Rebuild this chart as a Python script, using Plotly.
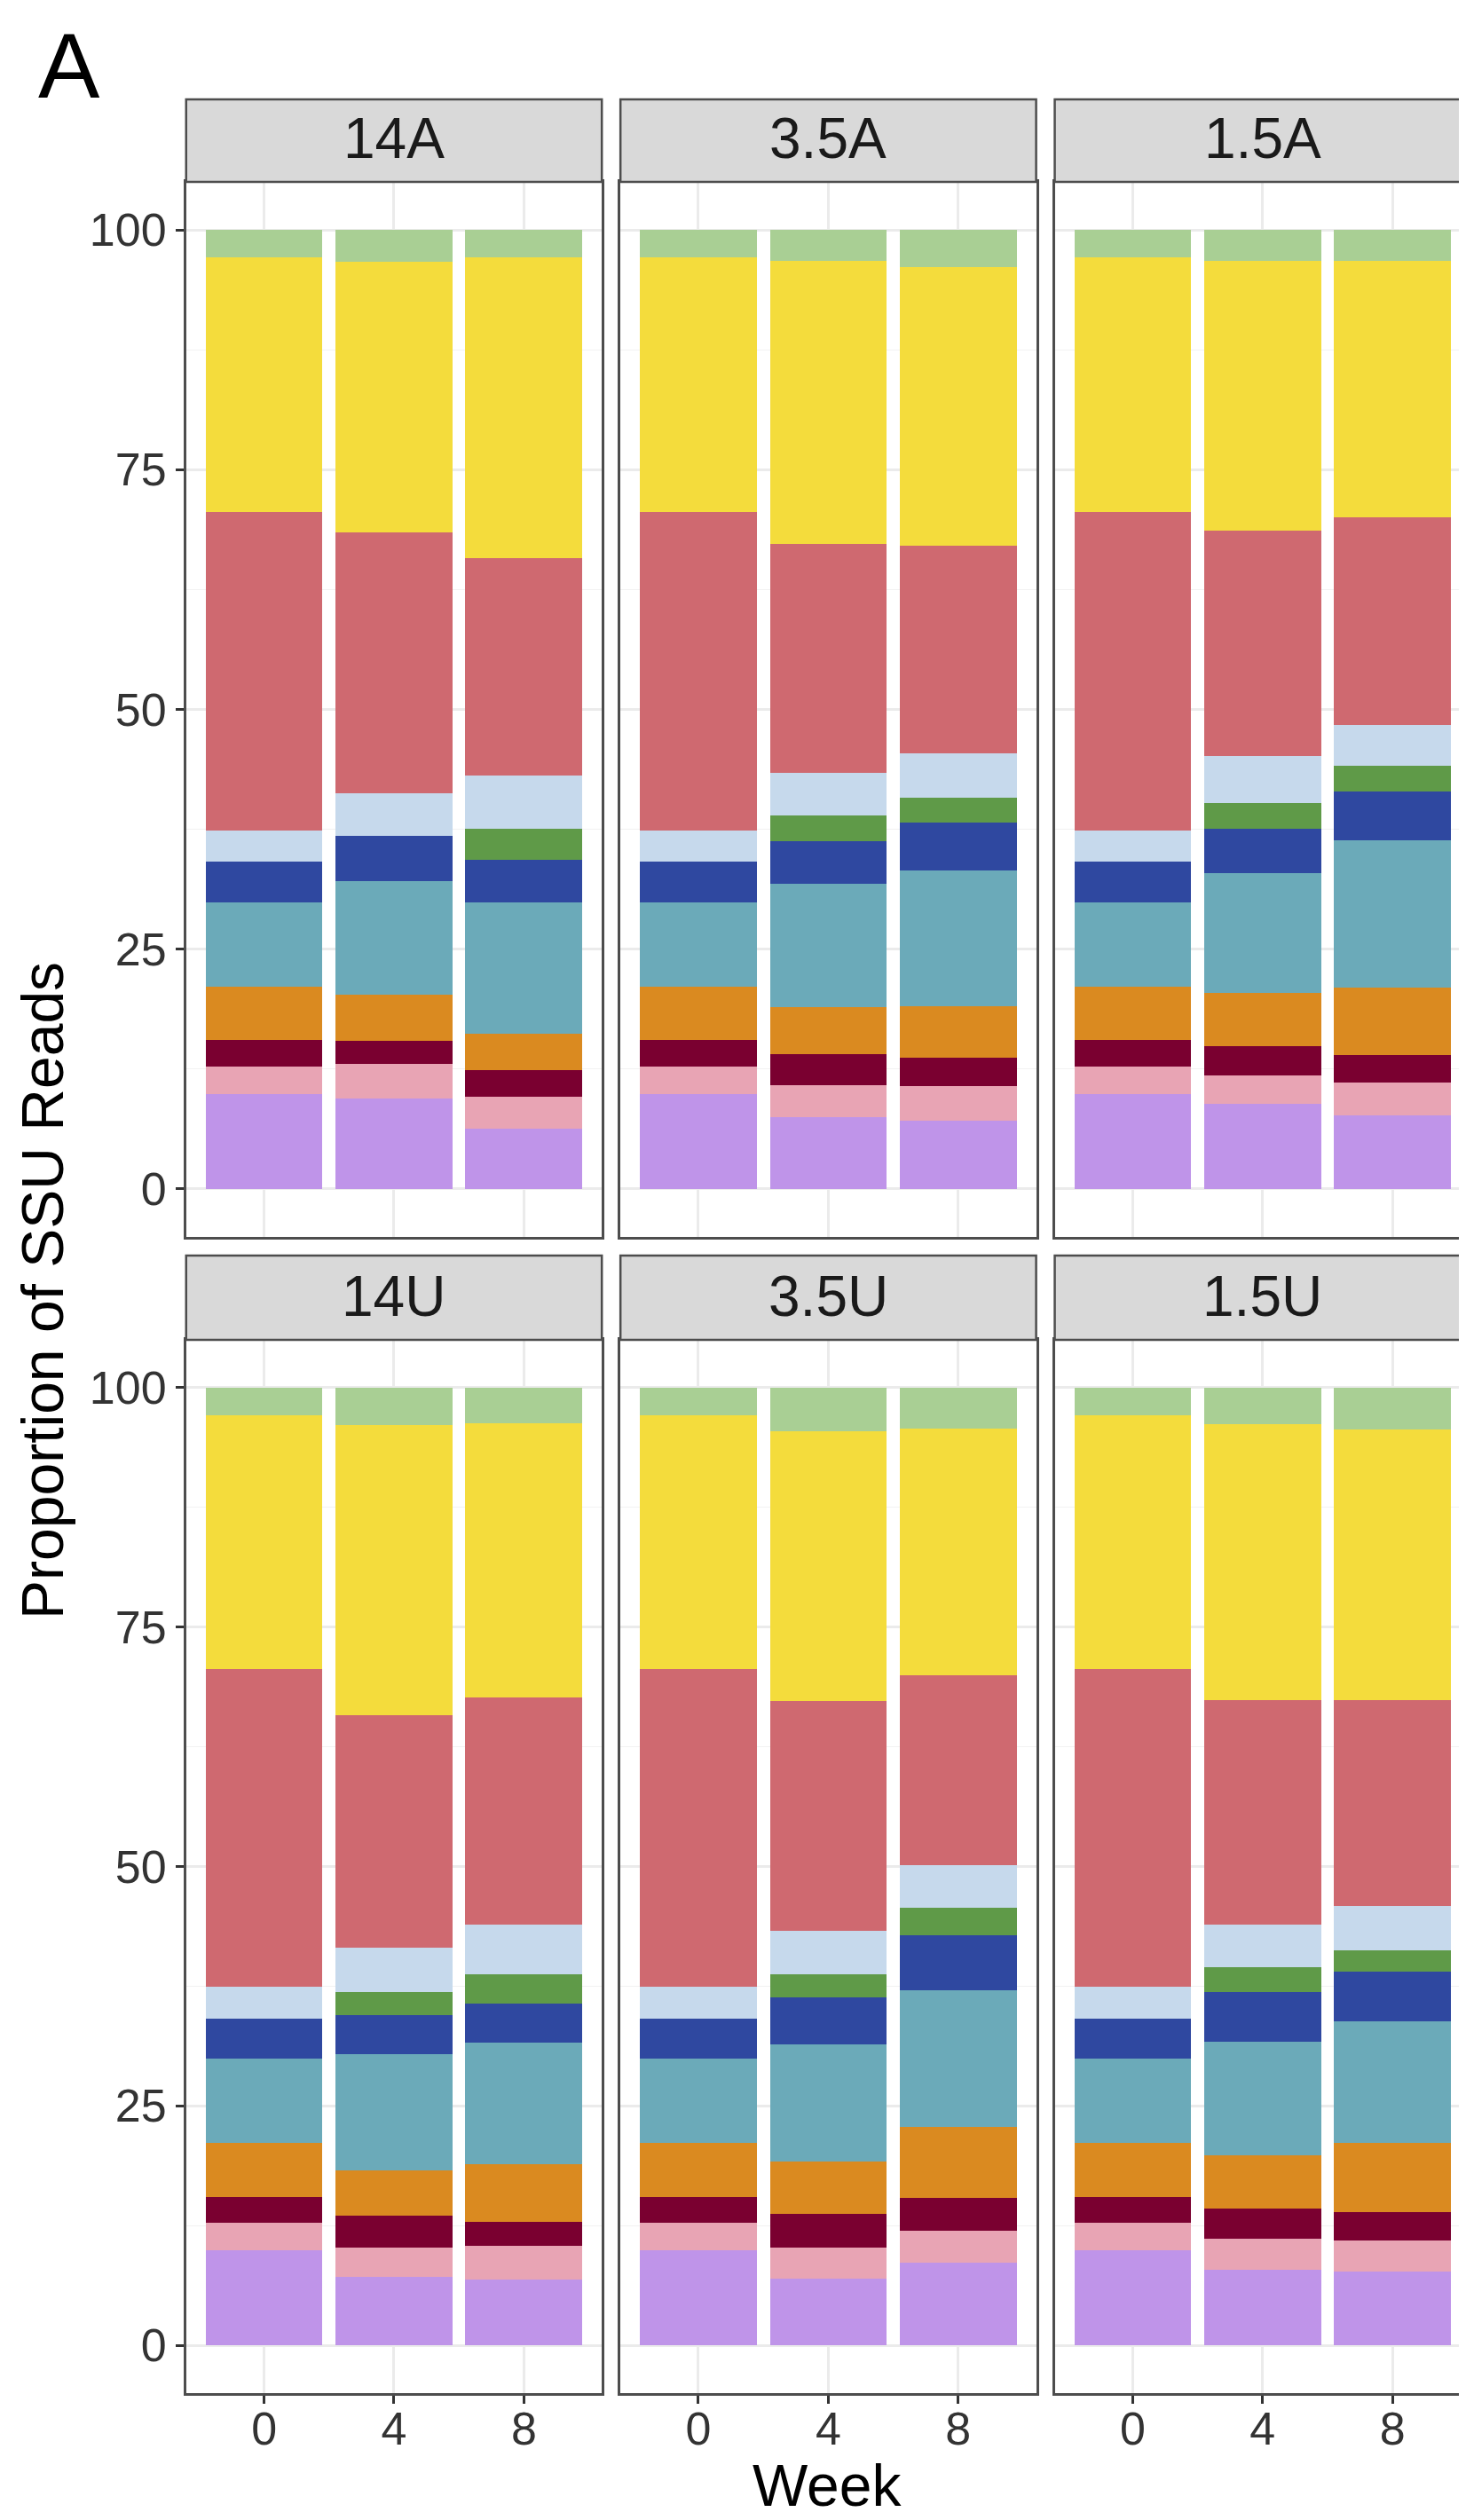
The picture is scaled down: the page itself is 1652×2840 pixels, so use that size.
import plotly.graph_objects as go

# ---------------- data ----------------
panels = ["14A", "3.5A", "1.5A", "14U", "3.5U", "1.5U"]
weeks = ["0", "4", "8"]
y_ticks = [0, 25, 50, 75, 100]

# Segment values (percent of SSU reads), 18 values each:
# panel order 14A, 3.5A, 1.5A, 14U, 3.5U, 1.5U ; week order 0, 4, 8
g_purple = [9.9, 9.4, 6.3,  9.9, 7.5, 7.1,  9.9, 8.9, 7.7,  9.9, 7.1, 6.9,  9.9, 7.0, 8.6,  9.9, 7.9, 7.7]
g_pink = [2.9, 3.6, 3.3,  2.9, 3.3, 3.6,  2.9, 2.9, 3.4,  2.9, 3.1, 3.5,  2.9, 3.2, 3.4,  2.9, 3.2, 3.2]
g_darkred = [2.7, 2.4, 2.8,  2.7, 3.3, 3.0,  2.7, 3.1, 2.9,  2.7, 3.3, 2.5,  2.7, 3.5, 3.4,  2.7, 3.2, 3.0]
g_orange = [5.6, 4.9, 3.8,  5.6, 4.9, 5.4,  5.6, 5.5, 7.0,  5.6, 4.8, 6.0,  5.6, 5.5, 7.4,  5.6, 5.5, 7.2]
g_teal = [8.8, 11.8, 13.7,  8.8, 12.8, 14.1,  8.8, 12.5, 15.4,  8.8, 12.1, 12.7,  8.8, 12.2, 14.3,  8.8, 11.9, 12.7]
g_blue = [4.2, 4.7, 4.4,  4.2, 4.5, 5.0,  4.2, 4.7, 5.0,  4.2, 4.1, 4.1,  4.2, 4.9, 5.7,  4.2, 5.2, 5.2]
g_green = [0.0, 0.0, 3.3,  0.0, 2.6, 2.6,  0.0, 2.6, 2.7,  0.0, 2.4, 3.0,  0.0, 2.4, 2.9,  0.0, 2.6, 2.2]
g_lightblue = [3.3, 4.5, 5.5,  3.3, 4.5, 4.6,  3.3, 4.9, 4.3,  3.3, 4.6, 5.2,  3.3, 4.6, 4.4,  3.3, 4.4, 4.7]
g_red = [33.2, 27.2, 22.7,  33.2, 23.9, 21.7,  33.2, 23.5, 21.6,  33.2, 24.3, 23.8,  33.2, 24.0, 19.9,  33.2, 23.5, 21.5]
g_yellow = [26.5, 28.2, 31.3,  26.5, 29.5, 29.0,  26.5, 28.2, 26.8,  26.5, 30.3, 28.6,  26.5, 28.2, 25.7,  26.5, 28.8, 28.2]
g_lightgreen = [2.9, 3.3, 2.9,  2.9, 3.2, 3.9,  2.9, 3.2, 3.2,  2.9, 3.9, 3.7,  2.9, 4.5, 4.3,  2.9, 3.8, 4.4]

# stacking order bottom -> top
groups = [
    ("Group 1", g_purple, "#BF94E9"),
    ("Group 2", g_pink, "#E8A4B4"),
    ("Group 3", g_darkred, "#7A0030"),
    ("Group 4", g_orange, "#DA8A20"),
    ("Group 5", g_teal, "#6BAAB9"),
    ("Group 6", g_blue, "#2F48A0"),
    ("Group 7", g_green, "#5F9A48"),
    ("Group 8", g_lightblue, "#C6D9EC"),
    ("Group 9", g_red, "#CF6970"),
    ("Group 10", g_yellow, "#F4DC3C"),
    ("Group 11", g_lightgreen, "#A9CF94"),
]

# ---------------- layout geometry ----------------
W, H = 1652, 2840
col_px = [(202, 671), (692, 1161), (1182, 1651)]
row_px = [(197, 1386), (1502, 2689)]          # panel top/bottom in px
strip_px = [(104, 197), (1407, 1502)]         # strip top/bottom in px

def fx(px):
    return px / W

def fy(py):
    return 1 - py / H

FONT = "Liberation Sans, Arial, Helvetica, sans-serif"
BORDER = "#4D4D4D"
GRID = "#EBEBEB"

fig = go.Figure()

layout = dict(
    width=W, height=H, autosize=False,
    margin=dict(l=0, r=0, t=0, b=0),
    paper_bgcolor="white", plot_bgcolor="white",
    barmode="stack", bargap=0.1, showlegend=False,
    font=dict(family=FONT, color="#1A1A1A"),
)

shapes = []
annotations = []

for i, pname in enumerate(panels):
    r, c = divmod(i, 3)
    ax = i + 1
    xname = "xaxis" if ax == 1 else f"xaxis{ax}"
    yname = "yaxis" if ax == 1 else f"yaxis{ax}"
    xref = "x" if ax == 1 else f"x{ax}"
    yref = "y" if ax == 1 else f"y{ax}"

    for name, vals, col in groups:
        fig.add_trace(go.Bar(
            x=weeks, y=vals[i * 3:(i + 1) * 3], name=name,
            marker=dict(color=col, line=dict(width=0)),
            xaxis=xref, yaxis=yref, showlegend=False,
        ))

    x0, x1 = col_px[c]
    yt, yb = row_px[r]
    layout[xname] = dict(
        domain=[fx(x0), fx(x1)], anchor=yref,
        type="category", categoryorder="array", categoryarray=weeks,
        range=[-0.6, 2.6], fixedrange=True,
        showgrid=True, gridcolor=GRID, gridwidth=2.5,
        showline=True, mirror=True, linecolor=BORDER, linewidth=2.5,
        ticks="outside" if r == 1 else "", ticklen=9, tickwidth=2.5, tickcolor="#333333",
        showticklabels=(r == 1), ticklabelstandoff=-16,
        tickfont=dict(family=FONT, size=52, color="#333333"),
        zeroline=False,
    )
    layout[yname] = dict(
        domain=[fy(yb), fy(yt)], anchor=xref,
        range=[-5, 105], fixedrange=True,
        tickmode="array", tickvals=y_ticks, ticktext=[str(v) for v in y_ticks],
        showgrid=True, gridcolor=GRID, gridwidth=2.5,
        minor=dict(tickvals=[12.5, 37.5, 62.5, 87.5], showgrid=True, gridcolor="#F2F2F2", gridwidth=1.3, ticks=""),
        showline=True, mirror=True, linecolor=BORDER, linewidth=2.5,
        ticks="outside" if c == 0 else "", ticklen=9, tickwidth=2.5, tickcolor="#333333",
        showticklabels=(c == 0),
        tickfont=dict(family=FONT, size=52, color="#333333"),
        zeroline=False,
    )

    # facet strip
    st, sb = strip_px[r]
    shapes.append(dict(
        type="rect", xref="paper", yref="paper",
        x0=fx(x0), x1=fx(x1), y0=fy(sb), y1=fy(st),
        fillcolor="#D9D9D9", line=dict(color=BORDER, width=2.5), layer="above",
    ))
    annotations.append(dict(
        text=pname, xref="paper", yref="paper",
        x=fx((x0 + x1) / 2), y=fy((st + sb) / 2 - 2),
        xanchor="center", yanchor="middle", showarrow=False,
        font=dict(family=FONT, size=64, color="#1A1A1A"),
    ))

# axis titles and panel letter
annotations.append(dict(
    text="Week", xref="paper", yref="paper", x=fx(926), y=fy(2793),
    xanchor="center", yanchor="middle", showarrow=False,
    font=dict(family=FONT, size=66, color="#000000"),
))
annotations.append(dict(
    text="Proportion of SSU Reads", xref="paper", yref="paper", x=fx(40), y=fy(1446),
    xanchor="center", yanchor="middle", showarrow=False, textangle=-90,
    font=dict(family=FONT, size=66, color="#000000"),
))
annotations.append(dict(
    text="A", xref="paper", yref="paper", x=fx(70), y=fy(66),
    xanchor="center", yanchor="middle", showarrow=False,
    font=dict(family=FONT, size=104, color="#000000"),
))

layout["shapes"] = shapes
layout["annotations"] = annotations
fig.update_layout(**layout)

fig.write_html("out.html")
